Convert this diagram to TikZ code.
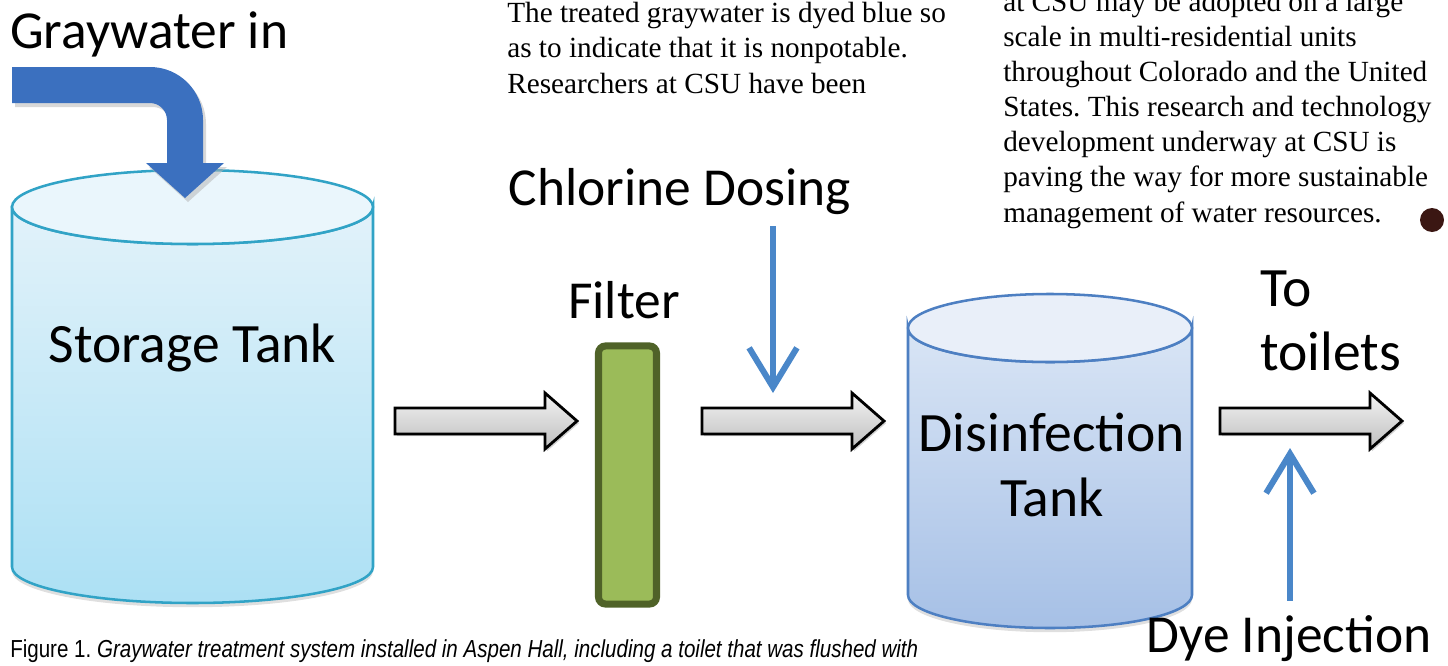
\documentclass[tikz,border=0pt]{standalone}
\usepackage{fontspec}
\setmainfont{Liberation Serif}
\newfontfamily\labelfont{Carlito}
\newfontfamily\capfont[FakeStretch=0.835]{Liberation Sans}
\usetikzlibrary{arrows.meta,shadows}
\frenchspacing
\definecolor{storline}{RGB}{49,163,198}
\definecolor{stortop}{RGB}{234,246,252}
\definecolor{storup}{RGB}{226,242,250}
\definecolor{stordown}{RGB}{172,224,244}
\definecolor{disline}{RGB}{77,127,194}
\definecolor{distop}{RGB}{233,239,249}
\definecolor{disup}{RGB}{217,229,245}
\definecolor{disdown}{RGB}{166,192,230}
\definecolor{filterfill}{RGB}{155,187,89}
\definecolor{filterline}{RGB}{79,98,40}
\definecolor{flowtop}{RGB}{242,242,242}
\definecolor{flowbot}{RGB}{191,191,191}
\definecolor{inblue}{RGB}{59,112,191}
\definecolor{doseblue}{RGB}{74,135,201}
\definecolor{dotbrown}{RGB}{59,23,19}
\tikzset{
	lbl/.style={font=\labelfont\fontsize{38}{46}\selectfont, inner sep=0pt},
	biglbl/.style={font=\labelfont\fontsize{39.5}{46}\selectfont, inner sep=0pt},
	body/.style={font=\fontsize{20.8}{24.9}\selectfont, align=left, inner sep=0pt},
	flow/.style={draw=black, line width=2pt, top color=flowtop, bottom color=flowbot,
		drop shadow={shadow xshift=1.5pt, shadow yshift=-1.5pt, opacity=.35}},
	dose/.style={draw=doseblue, line width=4.3pt, -{Straight Barb[length=28pt,width=34pt]}},
	pics/flowarrow/.style={code={
		\path[flow] (0,-13) -- (150,-13) -- (150,-28) -- (182,0) -- (150,28) -- (150,13) -- (0,13) -- cycle;
	}},
}
\begin{document}
\begin{tikzpicture}[x=0.025cm, y=-0.025cm]
	\useasboundingbox (0,0) rectangle (1448,665);
	\clip (0,0) rectangle (1448,665);
	\node[body, anchor=base west] (leftcol) at (507,93) {The treated graywater is dyed blue so\\as to indicate that it is nonpotable.\\Researchers at CSU have been};
	\node[body, anchor=base west] (rightcol) at (1003,222) {at CSU may be adopted on a large\\scale in multi-residential units\\throughout Colorado and the United\\States. This research and technology\\development underway at CSU is\\paving the way for more sustainable\\management of water resources.};
	\fill[dotbrown] (1432,220) circle (12);
	\path[draw=storline, line width=1.8pt, top color=storup, bottom color=stordown,
		drop shadow={shadow xshift=0pt, shadow yshift=-3pt, opacity=.25}]
		(12,207) -- (12,567) arc[start angle=180, end angle=0, x radius=180.5, y radius=36]
		-- (373,207) arc[start angle=0, end angle=180, x radius=180.5, y radius=37] -- cycle;
	\draw[storline, line width=1.8pt, fill=stortop] (192.5,207) ellipse[x radius=180.5, y radius=37];
	\node[biglbl, anchor=base] (storage) at (192.5,362) {Storage Tank};
	\node[lbl, anchor=base west] (grayin) at (10,48) {Graywater in};
	\fill[gray!60, opacity=.5, shift={(3,4)}] (12,67) -- (150,67) arc[start angle=-90, end angle=0, radius=53] -- (203,163) -- (224,163) -- (185,198) -- (146,163) -- (167,163) -- (167,120) arc[start angle=0, end angle=-90, radius=17] -- (12,103) -- cycle;
	\fill[inblue] (12,67) -- (150,67) arc[start angle=-90, end angle=0, radius=53] -- (203,163) -- (224,163) -- (185,198) -- (146,163) -- (167,163) -- (167,120) arc[start angle=0, end angle=-90, radius=17] -- (12,103) -- cycle;
	\pic at (395,421) {flowarrow};
	\node[lbl, anchor=base] (filtlbl) at (624,318) {Filter};
	\node[draw=filterline, fill=filterfill, line width=5pt, rounded corners=5pt, minimum width=1.45cm, minimum height=6.45cm] (filter) at (627.5,475) {};
	\node[lbl, anchor=base] (chlor) at (680,205) {Chlorine Dosing};
	\coordinate (chlortip) at (773,393);
	\draw[dose] (chlor.south -| chlortip) ++(0,12) -- (chlortip);
	\pic at (702,421) {flowarrow};
	\path[draw=disline, line width=1.8pt, top color=disup, bottom color=disdown,
		drop shadow={shadow xshift=0pt, shadow yshift=-3pt, opacity=.25}]
		(908,328) -- (908,595) arc[start angle=180, end angle=0, x radius=142, y radius=33]
		-- (1192,328) arc[start angle=0, end angle=180, x radius=142, y radius=34] -- cycle;
	\draw[disline, line width=1.8pt, fill=distop] (1050,328) ellipse[x radius=142, y radius=34];
	\node[biglbl, align=center] (disinf) at (1052,465) {Disinfection\\Tank};
	\pic at (1220,421) {flowarrow};
	\node[biglbl, align=left, anchor=west] (toilets) at (1260,321) {To\\toilets};
	\node[lbl, anchor=base] (dye) at (1289,652) {Dye Injection};
	\coordinate (dyetip) at (1290,448);
	\draw[dose] (dye.north -| dyetip) ++(0,-14) -- (dyetip);
	\node[anchor=base west, inner sep=0pt, font=\capfont\fontsize{17.5}{20}\selectfont] (caption) at (10,657) {Figure 1. \textit{Graywater treatment system installed in Aspen Hall, including a toilet that was flushed with}};
\end{tikzpicture}
\end{document}
